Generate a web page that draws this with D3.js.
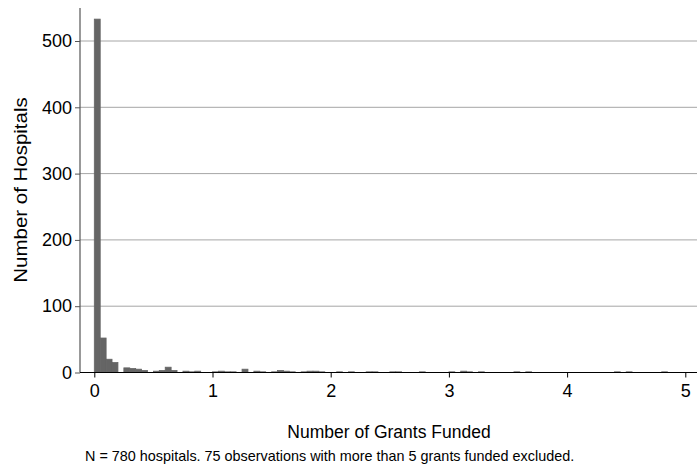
<!DOCTYPE html>
<html>
<head>
<meta charset="utf-8">
<script src="https://cdn.jsdelivr.net/npm/d3@7"></script>
<style>
  html, body { margin: 0; padding: 0; background: #fff; }
  svg { display: block; font-family: "Liberation Sans", Arial, sans-serif; }
</style>
</head>
<body>
<svg id="chart" width="697" height="466"></svg>
<script>
// Histogram of grants funded per hospital, bins of width 0.05 from 0 to 5
const binWidth = 0.05;
const counts = [
  533, 52, 20, 15, 0, 7, 6, 5, 3, 0,
  2, 3, 8, 3, 0, 2, 1, 2, 0, 0,
  1, 2, 1, 1, 0, 5, 0, 2, 1, 0,
  1, 3, 2, 1, 0, 1, 2, 2, 1, 0,
  0, 1, 0, 1, 0, 0, 1, 1, 0, 0,
  1, 1, 0, 0, 0, 1, 0, 0, 0, 0,
  1, 0, 2, 1, 0, 1, 0, 0, 0, 0,
  0, 1, 0, 1, 0, 0, 0, 0, 0, 0,
  0, 0, 0, 0, 0, 0, 0, 0, 1, 0,
  1, 0, 0, 0, 0, 0, 1, 0, 0, 0
];
const xTicks = [0, 1, 2, 3, 4, 5];
const yTicks = [0, 100, 200, 300, 400, 500];
const xTitle = "Number of Grants Funded";
const yTitle = "Number of Hospitals";
const note = "N = 780 hospitals. 75 observations with more than 5 grants funded excluded.";

const svg = d3.select("#chart");

const plotLeft = 80, plotRight = 697, plotTop = 8, plotBottom = 372.5;

const x = d3.scaleLinear().domain([0, 5]).range([94.3, 685.3]);
const y = d3.scaleLinear().domain([0, 500]).range([plotBottom, 41]);

// horizontal gridlines
svg.append("g")
  .selectAll("line")
  .data(yTicks.filter(d => d > 0))
  .join("line")
  .attr("x1", plotLeft).attr("x2", plotRight)
  .attr("y1", d => y(d)).attr("y2", d => y(d))
  .attr("stroke", "#a6a6a6").attr("stroke-width", 1);

// bars, outlined in their fill colour
const bins = counts.map((c, i) => ({ x0: i * binWidth, x1: (i + 1) * binWidth, count: c }))
  .filter(b => b.count > 0);

svg.append("g")
  .selectAll("rect")
  .data(bins)
  .join("rect")
  .attr("x", d => x(d.x0))
  .attr("width", d => x(d.x1) - x(d.x0))
  .attr("y", d => y(d.count))
  .attr("height", d => y(0) - y(d.count))
  .attr("fill", "#656565")
  .attr("stroke", "#656565")
  .attr("stroke-width", 0.8);

// y axis
const yAxis = svg.append("g").attr("transform", `translate(${plotLeft},0)`)
  .call(d3.axisLeft(y).tickValues(yTicks).tickSize(5).tickPadding(3).tickFormat(d3.format("d")));
yAxis.select(".domain").remove();
yAxis.append("line").attr("x1", 0).attr("x2", 0).attr("y1", plotTop).attr("y2", plotBottom)
  .attr("stroke", "#555").attr("stroke-width", 1.2);
yAxis.selectAll(".tick line").attr("stroke", "#555");
yAxis.selectAll(".tick text").attr("fill", "#000").style("font-size", "18px")
  .style("font-family", "Liberation Sans, Arial, sans-serif");

// x axis
const xAxis = svg.append("g").attr("transform", `translate(0,${plotBottom})`)
  .call(d3.axisBottom(x).tickValues(xTicks).tickSize(5).tickPadding(7).tickFormat(d3.format("d")));
xAxis.select(".domain").remove();
xAxis.append("line").attr("x1", plotLeft).attr("x2", plotRight).attr("y1", 0).attr("y2", 0)
  .attr("stroke", "#000").attr("stroke-width", 1.2);
xAxis.selectAll(".tick line").attr("stroke", "#000");
xAxis.selectAll(".tick text").attr("fill", "#000").style("font-size", "18px")
  .style("font-family", "Liberation Sans, Arial, sans-serif");

// axis titles
svg.append("text")
  .attr("x", 389).attr("y", 438)
  .attr("text-anchor", "middle")
  .style("font-size", "17.5px")
  .text(xTitle);

svg.append("text")
  .attr("transform", "translate(27,190) rotate(-90) scale(1.17,1)")
  .attr("text-anchor", "middle")
  .style("font-size", "17.5px")
  .text(yTitle);

// note
svg.append("text")
  .attr("x", 85).attr("y", 461)
  .style("font-size", "14.4px")
  .text(note);
</script>
</body>
</html>
